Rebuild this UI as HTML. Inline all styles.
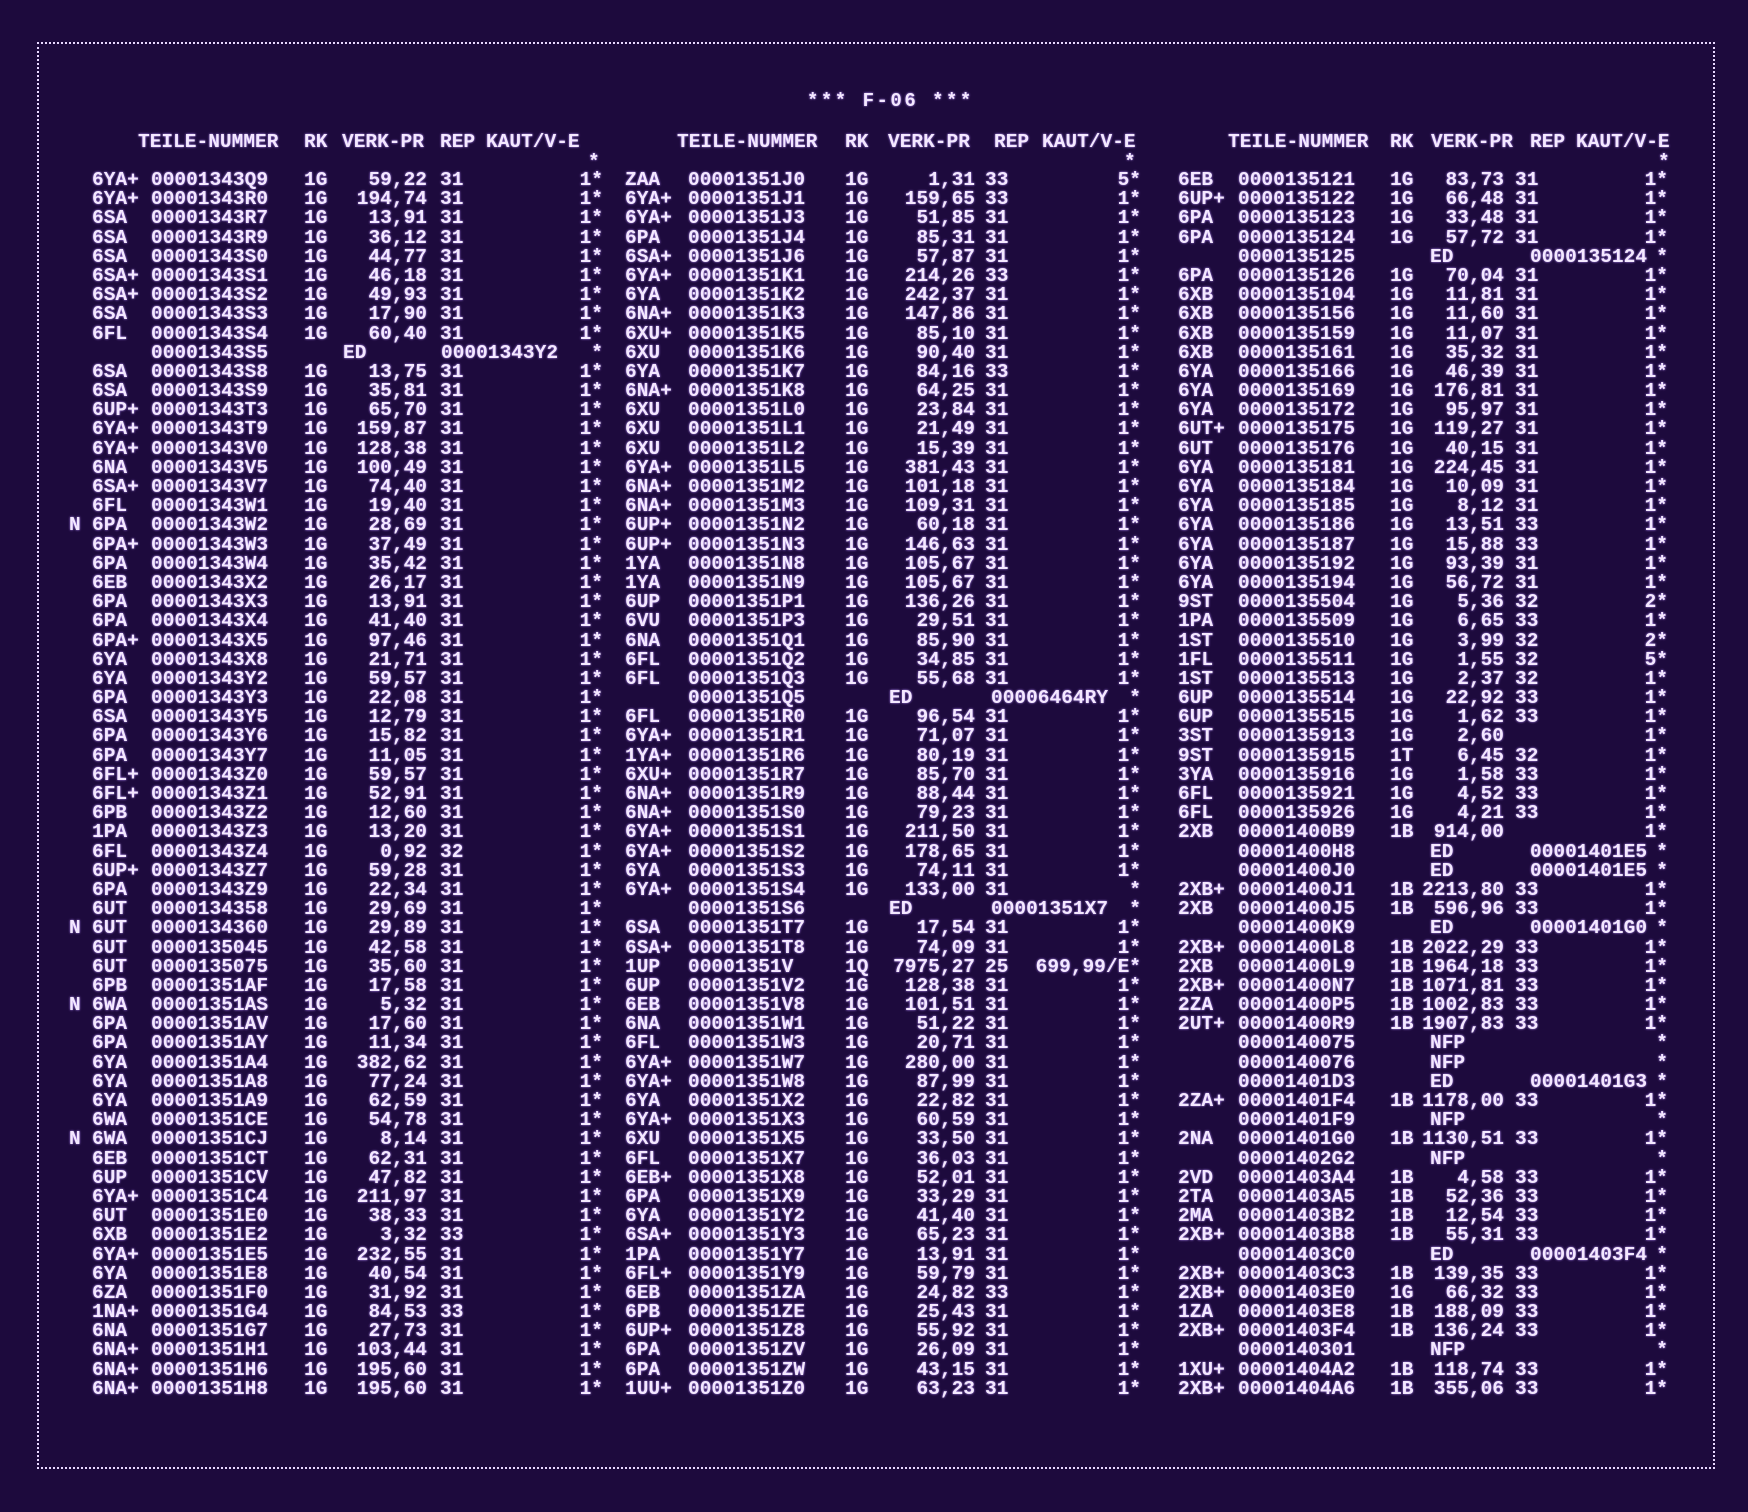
<!DOCTYPE html>
<html><head><meta charset="utf-8"><style>
html,body{margin:0;padding:0}
body{width:1748px;height:1512px;background:#1d0a3d;position:relative;overflow:hidden;font-family:"Liberation Mono",monospace;font-weight:bold;font-size:19.5px;color:#f4e8ff;text-shadow:0 0 2px #b890ff}
.box{position:absolute;left:37px;top:42px;width:1674px;height:1423px;border:2px dotted #e8d8ff}
.t{position:absolute;top:90px;left:807px;letter-spacing:2.5px;font-size:19px}
.h{position:absolute;top:131px;white-space:pre}
.rows{position:absolute;top:170px;left:0;width:1748px}
.r{position:relative;height:19.2px;line-height:20px}
i{font-style:normal;position:absolute;top:0;white-space:pre}
.a1{left:69px}.b1{left:92px}.n1{left:151px}.k1{left:304px}.p1{right:1321px}.e1{left:440px}.z1{right:1145px}.d1{left:343px}.x1{left:441px}
.b2{left:625px}.n2{left:688px}.k2{left:845px}.p2{right:773px}.e2{left:985px}.z2{right:607px}.d2{left:889px}.x2{left:991px}
.b3{left:1178px}.n3{left:1238px}.k3{left:1390px}.p3{right:244px}.e3{left:1515px}.z3{right:80px}.d3{left:1430px}.x3{left:1530px}
</style></head><body>
<div class="box"></div>
<div class="t">*** F-06 ***</div>
<div class="h" style="left:138px">TEILE-NUMMER</div><div class="h" style="left:304px">RK</div><div class="h" style="left:342px">VERK-PR</div><div class="h" style="left:440px">REP</div><div class="h" style="left:486px">KAUT/V-E</div>
<div class="h" style="left:677px">TEILE-NUMMER</div><div class="h" style="left:845px">RK</div><div class="h" style="left:888px">VERK-PR</div><div class="h" style="left:994px">REP</div><div class="h" style="left:1042px">KAUT/V-E</div>
<div class="h" style="left:1228px">TEILE-NUMMER</div><div class="h" style="left:1390px">RK</div><div class="h" style="left:1431px">VERK-PR</div><div class="h" style="left:1530px">REP</div><div class="h" style="left:1576px">KAUT/V-E</div>
<div class="h" style="left:588px;top:151px">*</div><div class="h" style="left:1124px;top:151px">*</div><div class="h" style="left:1658px;top:151px">*</div>
<div class="rows">
<div class="r"><i class="b1">6YA+</i><i class="n1">00001343Q9</i><i class="k1">1G</i><i class="p1">59,22</i><i class="e1">31</i><i class="z1">1*</i><i class="b2">ZAA</i><i class="n2">00001351J0</i><i class="k2">1G</i><i class="p2">1,31</i><i class="e2">33</i><i class="z2">5*</i><i class="b3">6EB</i><i class="n3">0000135121</i><i class="k3">1G</i><i class="p3">83,73</i><i class="e3">31</i><i class="z3">1*</i></div>
<div class="r"><i class="b1">6YA+</i><i class="n1">00001343R0</i><i class="k1">1G</i><i class="p1">194,74</i><i class="e1">31</i><i class="z1">1*</i><i class="b2">6YA+</i><i class="n2">00001351J1</i><i class="k2">1G</i><i class="p2">159,65</i><i class="e2">33</i><i class="z2">1*</i><i class="b3">6UP+</i><i class="n3">0000135122</i><i class="k3">1G</i><i class="p3">66,48</i><i class="e3">31</i><i class="z3">1*</i></div>
<div class="r"><i class="b1">6SA</i><i class="n1">00001343R7</i><i class="k1">1G</i><i class="p1">13,91</i><i class="e1">31</i><i class="z1">1*</i><i class="b2">6YA+</i><i class="n2">00001351J3</i><i class="k2">1G</i><i class="p2">51,85</i><i class="e2">31</i><i class="z2">1*</i><i class="b3">6PA</i><i class="n3">0000135123</i><i class="k3">1G</i><i class="p3">33,48</i><i class="e3">31</i><i class="z3">1*</i></div>
<div class="r"><i class="b1">6SA</i><i class="n1">00001343R9</i><i class="k1">1G</i><i class="p1">36,12</i><i class="e1">31</i><i class="z1">1*</i><i class="b2">6PA</i><i class="n2">00001351J4</i><i class="k2">1G</i><i class="p2">85,31</i><i class="e2">31</i><i class="z2">1*</i><i class="b3">6PA</i><i class="n3">0000135124</i><i class="k3">1G</i><i class="p3">57,72</i><i class="e3">31</i><i class="z3">1*</i></div>
<div class="r"><i class="b1">6SA</i><i class="n1">00001343S0</i><i class="k1">1G</i><i class="p1">44,77</i><i class="e1">31</i><i class="z1">1*</i><i class="b2">6SA+</i><i class="n2">00001351J6</i><i class="k2">1G</i><i class="p2">57,87</i><i class="e2">31</i><i class="z2">1*</i><i class="n3">0000135125</i><i class="d3">ED</i><i class="x3">0000135124</i><i class="z3">*</i></div>
<div class="r"><i class="b1">6SA+</i><i class="n1">00001343S1</i><i class="k1">1G</i><i class="p1">46,18</i><i class="e1">31</i><i class="z1">1*</i><i class="b2">6YA+</i><i class="n2">00001351K1</i><i class="k2">1G</i><i class="p2">214,26</i><i class="e2">33</i><i class="z2">1*</i><i class="b3">6PA</i><i class="n3">0000135126</i><i class="k3">1G</i><i class="p3">70,04</i><i class="e3">31</i><i class="z3">1*</i></div>
<div class="r"><i class="b1">6SA+</i><i class="n1">00001343S2</i><i class="k1">1G</i><i class="p1">49,93</i><i class="e1">31</i><i class="z1">1*</i><i class="b2">6YA</i><i class="n2">00001351K2</i><i class="k2">1G</i><i class="p2">242,37</i><i class="e2">31</i><i class="z2">1*</i><i class="b3">6XB</i><i class="n3">0000135104</i><i class="k3">1G</i><i class="p3">11,81</i><i class="e3">31</i><i class="z3">1*</i></div>
<div class="r"><i class="b1">6SA</i><i class="n1">00001343S3</i><i class="k1">1G</i><i class="p1">17,90</i><i class="e1">31</i><i class="z1">1*</i><i class="b2">6NA+</i><i class="n2">00001351K3</i><i class="k2">1G</i><i class="p2">147,86</i><i class="e2">31</i><i class="z2">1*</i><i class="b3">6XB</i><i class="n3">0000135156</i><i class="k3">1G</i><i class="p3">11,60</i><i class="e3">31</i><i class="z3">1*</i></div>
<div class="r"><i class="b1">6FL</i><i class="n1">00001343S4</i><i class="k1">1G</i><i class="p1">60,40</i><i class="e1">31</i><i class="z1">1*</i><i class="b2">6XU+</i><i class="n2">00001351K5</i><i class="k2">1G</i><i class="p2">85,10</i><i class="e2">31</i><i class="z2">1*</i><i class="b3">6XB</i><i class="n3">0000135159</i><i class="k3">1G</i><i class="p3">11,07</i><i class="e3">31</i><i class="z3">1*</i></div>
<div class="r"><i class="n1">00001343S5</i><i class="d1">ED</i><i class="x1">00001343Y2</i><i class="z1">*</i><i class="b2">6XU</i><i class="n2">00001351K6</i><i class="k2">1G</i><i class="p2">90,40</i><i class="e2">31</i><i class="z2">1*</i><i class="b3">6XB</i><i class="n3">0000135161</i><i class="k3">1G</i><i class="p3">35,32</i><i class="e3">31</i><i class="z3">1*</i></div>
<div class="r"><i class="b1">6SA</i><i class="n1">00001343S8</i><i class="k1">1G</i><i class="p1">13,75</i><i class="e1">31</i><i class="z1">1*</i><i class="b2">6YA</i><i class="n2">00001351K7</i><i class="k2">1G</i><i class="p2">84,16</i><i class="e2">33</i><i class="z2">1*</i><i class="b3">6YA</i><i class="n3">0000135166</i><i class="k3">1G</i><i class="p3">46,39</i><i class="e3">31</i><i class="z3">1*</i></div>
<div class="r"><i class="b1">6SA</i><i class="n1">00001343S9</i><i class="k1">1G</i><i class="p1">35,81</i><i class="e1">31</i><i class="z1">1*</i><i class="b2">6NA+</i><i class="n2">00001351K8</i><i class="k2">1G</i><i class="p2">64,25</i><i class="e2">31</i><i class="z2">1*</i><i class="b3">6YA</i><i class="n3">0000135169</i><i class="k3">1G</i><i class="p3">176,81</i><i class="e3">31</i><i class="z3">1*</i></div>
<div class="r"><i class="b1">6UP+</i><i class="n1">00001343T3</i><i class="k1">1G</i><i class="p1">65,70</i><i class="e1">31</i><i class="z1">1*</i><i class="b2">6XU</i><i class="n2">00001351L0</i><i class="k2">1G</i><i class="p2">23,84</i><i class="e2">31</i><i class="z2">1*</i><i class="b3">6YA</i><i class="n3">0000135172</i><i class="k3">1G</i><i class="p3">95,97</i><i class="e3">31</i><i class="z3">1*</i></div>
<div class="r"><i class="b1">6YA+</i><i class="n1">00001343T9</i><i class="k1">1G</i><i class="p1">159,87</i><i class="e1">31</i><i class="z1">1*</i><i class="b2">6XU</i><i class="n2">00001351L1</i><i class="k2">1G</i><i class="p2">21,49</i><i class="e2">31</i><i class="z2">1*</i><i class="b3">6UT+</i><i class="n3">0000135175</i><i class="k3">1G</i><i class="p3">119,27</i><i class="e3">31</i><i class="z3">1*</i></div>
<div class="r"><i class="b1">6YA+</i><i class="n1">00001343V0</i><i class="k1">1G</i><i class="p1">128,38</i><i class="e1">31</i><i class="z1">1*</i><i class="b2">6XU</i><i class="n2">00001351L2</i><i class="k2">1G</i><i class="p2">15,39</i><i class="e2">31</i><i class="z2">1*</i><i class="b3">6UT</i><i class="n3">0000135176</i><i class="k3">1G</i><i class="p3">40,15</i><i class="e3">31</i><i class="z3">1*</i></div>
<div class="r"><i class="b1">6NA</i><i class="n1">00001343V5</i><i class="k1">1G</i><i class="p1">100,49</i><i class="e1">31</i><i class="z1">1*</i><i class="b2">6YA+</i><i class="n2">00001351L5</i><i class="k2">1G</i><i class="p2">381,43</i><i class="e2">31</i><i class="z2">1*</i><i class="b3">6YA</i><i class="n3">0000135181</i><i class="k3">1G</i><i class="p3">224,45</i><i class="e3">31</i><i class="z3">1*</i></div>
<div class="r"><i class="b1">6SA+</i><i class="n1">00001343V7</i><i class="k1">1G</i><i class="p1">74,40</i><i class="e1">31</i><i class="z1">1*</i><i class="b2">6NA+</i><i class="n2">00001351M2</i><i class="k2">1G</i><i class="p2">101,18</i><i class="e2">31</i><i class="z2">1*</i><i class="b3">6YA</i><i class="n3">0000135184</i><i class="k3">1G</i><i class="p3">10,09</i><i class="e3">31</i><i class="z3">1*</i></div>
<div class="r"><i class="b1">6FL</i><i class="n1">00001343W1</i><i class="k1">1G</i><i class="p1">19,40</i><i class="e1">31</i><i class="z1">1*</i><i class="b2">6NA+</i><i class="n2">00001351M3</i><i class="k2">1G</i><i class="p2">109,31</i><i class="e2">31</i><i class="z2">1*</i><i class="b3">6YA</i><i class="n3">0000135185</i><i class="k3">1G</i><i class="p3">8,12</i><i class="e3">31</i><i class="z3">1*</i></div>
<div class="r"><i class="a1">N</i><i class="b1">6PA</i><i class="n1">00001343W2</i><i class="k1">1G</i><i class="p1">28,69</i><i class="e1">31</i><i class="z1">1*</i><i class="b2">6UP+</i><i class="n2">00001351N2</i><i class="k2">1G</i><i class="p2">60,18</i><i class="e2">31</i><i class="z2">1*</i><i class="b3">6YA</i><i class="n3">0000135186</i><i class="k3">1G</i><i class="p3">13,51</i><i class="e3">33</i><i class="z3">1*</i></div>
<div class="r"><i class="b1">6PA+</i><i class="n1">00001343W3</i><i class="k1">1G</i><i class="p1">37,49</i><i class="e1">31</i><i class="z1">1*</i><i class="b2">6UP+</i><i class="n2">00001351N3</i><i class="k2">1G</i><i class="p2">146,63</i><i class="e2">31</i><i class="z2">1*</i><i class="b3">6YA</i><i class="n3">0000135187</i><i class="k3">1G</i><i class="p3">15,88</i><i class="e3">33</i><i class="z3">1*</i></div>
<div class="r"><i class="b1">6PA</i><i class="n1">00001343W4</i><i class="k1">1G</i><i class="p1">35,42</i><i class="e1">31</i><i class="z1">1*</i><i class="b2">1YA</i><i class="n2">00001351N8</i><i class="k2">1G</i><i class="p2">105,67</i><i class="e2">31</i><i class="z2">1*</i><i class="b3">6YA</i><i class="n3">0000135192</i><i class="k3">1G</i><i class="p3">93,39</i><i class="e3">31</i><i class="z3">1*</i></div>
<div class="r"><i class="b1">6EB</i><i class="n1">00001343X2</i><i class="k1">1G</i><i class="p1">26,17</i><i class="e1">31</i><i class="z1">1*</i><i class="b2">1YA</i><i class="n2">00001351N9</i><i class="k2">1G</i><i class="p2">105,67</i><i class="e2">31</i><i class="z2">1*</i><i class="b3">6YA</i><i class="n3">0000135194</i><i class="k3">1G</i><i class="p3">56,72</i><i class="e3">31</i><i class="z3">1*</i></div>
<div class="r"><i class="b1">6PA</i><i class="n1">00001343X3</i><i class="k1">1G</i><i class="p1">13,91</i><i class="e1">31</i><i class="z1">1*</i><i class="b2">6UP</i><i class="n2">00001351P1</i><i class="k2">1G</i><i class="p2">136,26</i><i class="e2">31</i><i class="z2">1*</i><i class="b3">9ST</i><i class="n3">0000135504</i><i class="k3">1G</i><i class="p3">5,36</i><i class="e3">32</i><i class="z3">2*</i></div>
<div class="r"><i class="b1">6PA</i><i class="n1">00001343X4</i><i class="k1">1G</i><i class="p1">41,40</i><i class="e1">31</i><i class="z1">1*</i><i class="b2">6VU</i><i class="n2">00001351P3</i><i class="k2">1G</i><i class="p2">29,51</i><i class="e2">31</i><i class="z2">1*</i><i class="b3">1PA</i><i class="n3">0000135509</i><i class="k3">1G</i><i class="p3">6,65</i><i class="e3">33</i><i class="z3">1*</i></div>
<div class="r"><i class="b1">6PA+</i><i class="n1">00001343X5</i><i class="k1">1G</i><i class="p1">97,46</i><i class="e1">31</i><i class="z1">1*</i><i class="b2">6NA</i><i class="n2">00001351Q1</i><i class="k2">1G</i><i class="p2">85,90</i><i class="e2">31</i><i class="z2">1*</i><i class="b3">1ST</i><i class="n3">0000135510</i><i class="k3">1G</i><i class="p3">3,99</i><i class="e3">32</i><i class="z3">2*</i></div>
<div class="r"><i class="b1">6YA</i><i class="n1">00001343X8</i><i class="k1">1G</i><i class="p1">21,71</i><i class="e1">31</i><i class="z1">1*</i><i class="b2">6FL</i><i class="n2">00001351Q2</i><i class="k2">1G</i><i class="p2">34,85</i><i class="e2">31</i><i class="z2">1*</i><i class="b3">1FL</i><i class="n3">0000135511</i><i class="k3">1G</i><i class="p3">1,55</i><i class="e3">32</i><i class="z3">5*</i></div>
<div class="r"><i class="b1">6YA</i><i class="n1">00001343Y2</i><i class="k1">1G</i><i class="p1">59,57</i><i class="e1">31</i><i class="z1">1*</i><i class="b2">6FL</i><i class="n2">00001351Q3</i><i class="k2">1G</i><i class="p2">55,68</i><i class="e2">31</i><i class="z2">1*</i><i class="b3">1ST</i><i class="n3">0000135513</i><i class="k3">1G</i><i class="p3">2,37</i><i class="e3">32</i><i class="z3">1*</i></div>
<div class="r"><i class="b1">6PA</i><i class="n1">00001343Y3</i><i class="k1">1G</i><i class="p1">22,08</i><i class="e1">31</i><i class="z1">1*</i><i class="n2">00001351Q5</i><i class="d2">ED</i><i class="x2">00006464RY</i><i class="z2">*</i><i class="b3">6UP</i><i class="n3">0000135514</i><i class="k3">1G</i><i class="p3">22,92</i><i class="e3">33</i><i class="z3">1*</i></div>
<div class="r"><i class="b1">6SA</i><i class="n1">00001343Y5</i><i class="k1">1G</i><i class="p1">12,79</i><i class="e1">31</i><i class="z1">1*</i><i class="b2">6FL</i><i class="n2">00001351R0</i><i class="k2">1G</i><i class="p2">96,54</i><i class="e2">31</i><i class="z2">1*</i><i class="b3">6UP</i><i class="n3">0000135515</i><i class="k3">1G</i><i class="p3">1,62</i><i class="e3">33</i><i class="z3">1*</i></div>
<div class="r"><i class="b1">6PA</i><i class="n1">00001343Y6</i><i class="k1">1G</i><i class="p1">15,82</i><i class="e1">31</i><i class="z1">1*</i><i class="b2">6YA+</i><i class="n2">00001351R1</i><i class="k2">1G</i><i class="p2">71,07</i><i class="e2">31</i><i class="z2">1*</i><i class="b3">3ST</i><i class="n3">0000135913</i><i class="k3">1G</i><i class="p3">2,60</i><i class="z3">1*</i></div>
<div class="r"><i class="b1">6PA</i><i class="n1">00001343Y7</i><i class="k1">1G</i><i class="p1">11,05</i><i class="e1">31</i><i class="z1">1*</i><i class="b2">1YA+</i><i class="n2">00001351R6</i><i class="k2">1G</i><i class="p2">80,19</i><i class="e2">31</i><i class="z2">1*</i><i class="b3">9ST</i><i class="n3">0000135915</i><i class="k3">1T</i><i class="p3">6,45</i><i class="e3">32</i><i class="z3">1*</i></div>
<div class="r"><i class="b1">6FL+</i><i class="n1">00001343Z0</i><i class="k1">1G</i><i class="p1">59,57</i><i class="e1">31</i><i class="z1">1*</i><i class="b2">6XU+</i><i class="n2">00001351R7</i><i class="k2">1G</i><i class="p2">85,70</i><i class="e2">31</i><i class="z2">1*</i><i class="b3">3YA</i><i class="n3">0000135916</i><i class="k3">1G</i><i class="p3">1,58</i><i class="e3">33</i><i class="z3">1*</i></div>
<div class="r"><i class="b1">6FL+</i><i class="n1">00001343Z1</i><i class="k1">1G</i><i class="p1">52,91</i><i class="e1">31</i><i class="z1">1*</i><i class="b2">6NA+</i><i class="n2">00001351R9</i><i class="k2">1G</i><i class="p2">88,44</i><i class="e2">31</i><i class="z2">1*</i><i class="b3">6FL</i><i class="n3">0000135921</i><i class="k3">1G</i><i class="p3">4,52</i><i class="e3">33</i><i class="z3">1*</i></div>
<div class="r"><i class="b1">6PB</i><i class="n1">00001343Z2</i><i class="k1">1G</i><i class="p1">12,60</i><i class="e1">31</i><i class="z1">1*</i><i class="b2">6NA+</i><i class="n2">00001351S0</i><i class="k2">1G</i><i class="p2">79,23</i><i class="e2">31</i><i class="z2">1*</i><i class="b3">6FL</i><i class="n3">0000135926</i><i class="k3">1G</i><i class="p3">4,21</i><i class="e3">33</i><i class="z3">1*</i></div>
<div class="r"><i class="b1">1PA</i><i class="n1">00001343Z3</i><i class="k1">1G</i><i class="p1">13,20</i><i class="e1">31</i><i class="z1">1*</i><i class="b2">6YA+</i><i class="n2">00001351S1</i><i class="k2">1G</i><i class="p2">211,50</i><i class="e2">31</i><i class="z2">1*</i><i class="b3">2XB</i><i class="n3">00001400B9</i><i class="k3">1B</i><i class="p3">914,00</i><i class="z3">1*</i></div>
<div class="r"><i class="b1">6FL</i><i class="n1">00001343Z4</i><i class="k1">1G</i><i class="p1">0,92</i><i class="e1">32</i><i class="z1">1*</i><i class="b2">6YA+</i><i class="n2">00001351S2</i><i class="k2">1G</i><i class="p2">178,65</i><i class="e2">31</i><i class="z2">1*</i><i class="n3">00001400H8</i><i class="d3">ED</i><i class="x3">00001401E5</i><i class="z3">*</i></div>
<div class="r"><i class="b1">6UP+</i><i class="n1">00001343Z7</i><i class="k1">1G</i><i class="p1">59,28</i><i class="e1">31</i><i class="z1">1*</i><i class="b2">6YA</i><i class="n2">00001351S3</i><i class="k2">1G</i><i class="p2">74,11</i><i class="e2">31</i><i class="z2">1*</i><i class="n3">00001400J0</i><i class="d3">ED</i><i class="x3">00001401E5</i><i class="z3">*</i></div>
<div class="r"><i class="b1">6PA</i><i class="n1">00001343Z9</i><i class="k1">1G</i><i class="p1">22,34</i><i class="e1">31</i><i class="z1">1*</i><i class="b2">6YA+</i><i class="n2">00001351S4</i><i class="k2">1G</i><i class="p2">133,00</i><i class="e2">31</i><i class="z2">*</i><i class="b3">2XB+</i><i class="n3">00001400J1</i><i class="k3">1B</i><i class="p3">2213,80</i><i class="e3">33</i><i class="z3">1*</i></div>
<div class="r"><i class="b1">6UT</i><i class="n1">0000134358</i><i class="k1">1G</i><i class="p1">29,69</i><i class="e1">31</i><i class="z1">1*</i><i class="n2">00001351S6</i><i class="d2">ED</i><i class="x2">00001351X7</i><i class="z2">*</i><i class="b3">2XB</i><i class="n3">00001400J5</i><i class="k3">1B</i><i class="p3">596,96</i><i class="e3">33</i><i class="z3">1*</i></div>
<div class="r"><i class="a1">N</i><i class="b1">6UT</i><i class="n1">0000134360</i><i class="k1">1G</i><i class="p1">29,89</i><i class="e1">31</i><i class="z1">1*</i><i class="b2">6SA</i><i class="n2">00001351T7</i><i class="k2">1G</i><i class="p2">17,54</i><i class="e2">31</i><i class="z2">1*</i><i class="n3">00001400K9</i><i class="d3">ED</i><i class="x3">00001401G0</i><i class="z3">*</i></div>
<div class="r"><i class="b1">6UT</i><i class="n1">0000135045</i><i class="k1">1G</i><i class="p1">42,58</i><i class="e1">31</i><i class="z1">1*</i><i class="b2">6SA+</i><i class="n2">00001351T8</i><i class="k2">1G</i><i class="p2">74,09</i><i class="e2">31</i><i class="z2">1*</i><i class="b3">2XB+</i><i class="n3">00001400L8</i><i class="k3">1B</i><i class="p3">2022,29</i><i class="e3">33</i><i class="z3">1*</i></div>
<div class="r"><i class="b1">6UT</i><i class="n1">0000135075</i><i class="k1">1G</i><i class="p1">35,60</i><i class="e1">31</i><i class="z1">1*</i><i class="b2">1UP</i><i class="n2">00001351V</i><i class="k2">1Q</i><i class="p2">7975,27</i><i class="e2">25</i><i class="z2">699,99/E*</i><i class="b3">2XB</i><i class="n3">00001400L9</i><i class="k3">1B</i><i class="p3">1964,18</i><i class="e3">33</i><i class="z3">1*</i></div>
<div class="r"><i class="b1">6PB</i><i class="n1">00001351AF</i><i class="k1">1G</i><i class="p1">17,58</i><i class="e1">31</i><i class="z1">1*</i><i class="b2">6UP</i><i class="n2">00001351V2</i><i class="k2">1G</i><i class="p2">128,38</i><i class="e2">31</i><i class="z2">1*</i><i class="b3">2XB+</i><i class="n3">00001400N7</i><i class="k3">1B</i><i class="p3">1071,81</i><i class="e3">33</i><i class="z3">1*</i></div>
<div class="r"><i class="a1">N</i><i class="b1">6WA</i><i class="n1">00001351AS</i><i class="k1">1G</i><i class="p1">5,32</i><i class="e1">31</i><i class="z1">1*</i><i class="b2">6EB</i><i class="n2">00001351V8</i><i class="k2">1G</i><i class="p2">101,51</i><i class="e2">31</i><i class="z2">1*</i><i class="b3">2ZA</i><i class="n3">00001400P5</i><i class="k3">1B</i><i class="p3">1002,83</i><i class="e3">33</i><i class="z3">1*</i></div>
<div class="r"><i class="b1">6PA</i><i class="n1">00001351AV</i><i class="k1">1G</i><i class="p1">17,60</i><i class="e1">31</i><i class="z1">1*</i><i class="b2">6NA</i><i class="n2">00001351W1</i><i class="k2">1G</i><i class="p2">51,22</i><i class="e2">31</i><i class="z2">1*</i><i class="b3">2UT+</i><i class="n3">00001400R9</i><i class="k3">1B</i><i class="p3">1907,83</i><i class="e3">33</i><i class="z3">1*</i></div>
<div class="r"><i class="b1">6PA</i><i class="n1">00001351AY</i><i class="k1">1G</i><i class="p1">11,34</i><i class="e1">31</i><i class="z1">1*</i><i class="b2">6FL</i><i class="n2">00001351W3</i><i class="k2">1G</i><i class="p2">20,71</i><i class="e2">31</i><i class="z2">1*</i><i class="n3">0000140075</i><i class="d3">NFP</i><i class="z3">*</i></div>
<div class="r"><i class="b1">6YA</i><i class="n1">00001351A4</i><i class="k1">1G</i><i class="p1">382,62</i><i class="e1">31</i><i class="z1">1*</i><i class="b2">6YA+</i><i class="n2">00001351W7</i><i class="k2">1G</i><i class="p2">280,00</i><i class="e2">31</i><i class="z2">1*</i><i class="n3">0000140076</i><i class="d3">NFP</i><i class="z3">*</i></div>
<div class="r"><i class="b1">6YA</i><i class="n1">00001351A8</i><i class="k1">1G</i><i class="p1">77,24</i><i class="e1">31</i><i class="z1">1*</i><i class="b2">6YA+</i><i class="n2">00001351W8</i><i class="k2">1G</i><i class="p2">87,99</i><i class="e2">31</i><i class="z2">1*</i><i class="n3">00001401D3</i><i class="d3">ED</i><i class="x3">00001401G3</i><i class="z3">*</i></div>
<div class="r"><i class="b1">6YA</i><i class="n1">00001351A9</i><i class="k1">1G</i><i class="p1">62,59</i><i class="e1">31</i><i class="z1">1*</i><i class="b2">6YA</i><i class="n2">00001351X2</i><i class="k2">1G</i><i class="p2">22,82</i><i class="e2">31</i><i class="z2">1*</i><i class="b3">2ZA+</i><i class="n3">00001401F4</i><i class="k3">1B</i><i class="p3">1178,00</i><i class="e3">33</i><i class="z3">1*</i></div>
<div class="r"><i class="b1">6WA</i><i class="n1">00001351CE</i><i class="k1">1G</i><i class="p1">54,78</i><i class="e1">31</i><i class="z1">1*</i><i class="b2">6YA+</i><i class="n2">00001351X3</i><i class="k2">1G</i><i class="p2">60,59</i><i class="e2">31</i><i class="z2">1*</i><i class="n3">00001401F9</i><i class="d3">NFP</i><i class="z3">*</i></div>
<div class="r"><i class="a1">N</i><i class="b1">6WA</i><i class="n1">00001351CJ</i><i class="k1">1G</i><i class="p1">8,14</i><i class="e1">31</i><i class="z1">1*</i><i class="b2">6XU</i><i class="n2">00001351X5</i><i class="k2">1G</i><i class="p2">33,50</i><i class="e2">31</i><i class="z2">1*</i><i class="b3">2NA</i><i class="n3">00001401G0</i><i class="k3">1B</i><i class="p3">1130,51</i><i class="e3">33</i><i class="z3">1*</i></div>
<div class="r"><i class="b1">6EB</i><i class="n1">00001351CT</i><i class="k1">1G</i><i class="p1">62,31</i><i class="e1">31</i><i class="z1">1*</i><i class="b2">6FL</i><i class="n2">00001351X7</i><i class="k2">1G</i><i class="p2">36,03</i><i class="e2">31</i><i class="z2">1*</i><i class="n3">00001402G2</i><i class="d3">NFP</i><i class="z3">*</i></div>
<div class="r"><i class="b1">6UP</i><i class="n1">00001351CV</i><i class="k1">1G</i><i class="p1">47,82</i><i class="e1">31</i><i class="z1">1*</i><i class="b2">6EB+</i><i class="n2">00001351X8</i><i class="k2">1G</i><i class="p2">52,01</i><i class="e2">31</i><i class="z2">1*</i><i class="b3">2VD</i><i class="n3">00001403A4</i><i class="k3">1B</i><i class="p3">4,58</i><i class="e3">33</i><i class="z3">1*</i></div>
<div class="r"><i class="b1">6YA+</i><i class="n1">00001351C4</i><i class="k1">1G</i><i class="p1">211,97</i><i class="e1">31</i><i class="z1">1*</i><i class="b2">6PA</i><i class="n2">00001351X9</i><i class="k2">1G</i><i class="p2">33,29</i><i class="e2">31</i><i class="z2">1*</i><i class="b3">2TA</i><i class="n3">00001403A5</i><i class="k3">1B</i><i class="p3">52,36</i><i class="e3">33</i><i class="z3">1*</i></div>
<div class="r"><i class="b1">6UT</i><i class="n1">00001351E0</i><i class="k1">1G</i><i class="p1">38,33</i><i class="e1">31</i><i class="z1">1*</i><i class="b2">6YA</i><i class="n2">00001351Y2</i><i class="k2">1G</i><i class="p2">41,40</i><i class="e2">31</i><i class="z2">1*</i><i class="b3">2MA</i><i class="n3">00001403B2</i><i class="k3">1B</i><i class="p3">12,54</i><i class="e3">33</i><i class="z3">1*</i></div>
<div class="r"><i class="b1">6XB</i><i class="n1">00001351E2</i><i class="k1">1G</i><i class="p1">3,32</i><i class="e1">33</i><i class="z1">1*</i><i class="b2">6SA+</i><i class="n2">00001351Y3</i><i class="k2">1G</i><i class="p2">65,23</i><i class="e2">31</i><i class="z2">1*</i><i class="b3">2XB+</i><i class="n3">00001403B8</i><i class="k3">1B</i><i class="p3">55,31</i><i class="e3">33</i><i class="z3">1*</i></div>
<div class="r"><i class="b1">6YA+</i><i class="n1">00001351E5</i><i class="k1">1G</i><i class="p1">232,55</i><i class="e1">31</i><i class="z1">1*</i><i class="b2">1PA</i><i class="n2">00001351Y7</i><i class="k2">1G</i><i class="p2">13,91</i><i class="e2">31</i><i class="z2">1*</i><i class="n3">00001403C0</i><i class="d3">ED</i><i class="x3">00001403F4</i><i class="z3">*</i></div>
<div class="r"><i class="b1">6YA</i><i class="n1">00001351E8</i><i class="k1">1G</i><i class="p1">40,54</i><i class="e1">31</i><i class="z1">1*</i><i class="b2">6FL+</i><i class="n2">00001351Y9</i><i class="k2">1G</i><i class="p2">59,79</i><i class="e2">31</i><i class="z2">1*</i><i class="b3">2XB+</i><i class="n3">00001403C3</i><i class="k3">1B</i><i class="p3">139,35</i><i class="e3">33</i><i class="z3">1*</i></div>
<div class="r"><i class="b1">6ZA</i><i class="n1">00001351F0</i><i class="k1">1G</i><i class="p1">31,92</i><i class="e1">31</i><i class="z1">1*</i><i class="b2">6EB</i><i class="n2">00001351ZA</i><i class="k2">1G</i><i class="p2">24,82</i><i class="e2">33</i><i class="z2">1*</i><i class="b3">2XB+</i><i class="n3">00001403E0</i><i class="k3">1G</i><i class="p3">66,32</i><i class="e3">33</i><i class="z3">1*</i></div>
<div class="r"><i class="b1">1NA+</i><i class="n1">00001351G4</i><i class="k1">1G</i><i class="p1">84,53</i><i class="e1">33</i><i class="z1">1*</i><i class="b2">6PB</i><i class="n2">00001351ZE</i><i class="k2">1G</i><i class="p2">25,43</i><i class="e2">31</i><i class="z2">1*</i><i class="b3">1ZA</i><i class="n3">00001403E8</i><i class="k3">1B</i><i class="p3">188,09</i><i class="e3">33</i><i class="z3">1*</i></div>
<div class="r"><i class="b1">6NA</i><i class="n1">00001351G7</i><i class="k1">1G</i><i class="p1">27,73</i><i class="e1">31</i><i class="z1">1*</i><i class="b2">6UP+</i><i class="n2">00001351Z8</i><i class="k2">1G</i><i class="p2">55,92</i><i class="e2">31</i><i class="z2">1*</i><i class="b3">2XB+</i><i class="n3">00001403F4</i><i class="k3">1B</i><i class="p3">136,24</i><i class="e3">33</i><i class="z3">1*</i></div>
<div class="r"><i class="b1">6NA+</i><i class="n1">00001351H1</i><i class="k1">1G</i><i class="p1">103,44</i><i class="e1">31</i><i class="z1">1*</i><i class="b2">6PA</i><i class="n2">00001351ZV</i><i class="k2">1G</i><i class="p2">26,09</i><i class="e2">31</i><i class="z2">1*</i><i class="n3">0000140301</i><i class="d3">NFP</i><i class="z3">*</i></div>
<div class="r"><i class="b1">6NA+</i><i class="n1">00001351H6</i><i class="k1">1G</i><i class="p1">195,60</i><i class="e1">31</i><i class="z1">1*</i><i class="b2">6PA</i><i class="n2">00001351ZW</i><i class="k2">1G</i><i class="p2">43,15</i><i class="e2">31</i><i class="z2">1*</i><i class="b3">1XU+</i><i class="n3">00001404A2</i><i class="k3">1B</i><i class="p3">118,74</i><i class="e3">33</i><i class="z3">1*</i></div>
<div class="r"><i class="b1">6NA+</i><i class="n1">00001351H8</i><i class="k1">1G</i><i class="p1">195,60</i><i class="e1">31</i><i class="z1">1*</i><i class="b2">1UU+</i><i class="n2">00001351Z0</i><i class="k2">1G</i><i class="p2">63,23</i><i class="e2">31</i><i class="z2">1*</i><i class="b3">2XB+</i><i class="n3">00001404A6</i><i class="k3">1B</i><i class="p3">355,06</i><i class="e3">33</i><i class="z3">1*</i></div>
</div>
</body></html>
